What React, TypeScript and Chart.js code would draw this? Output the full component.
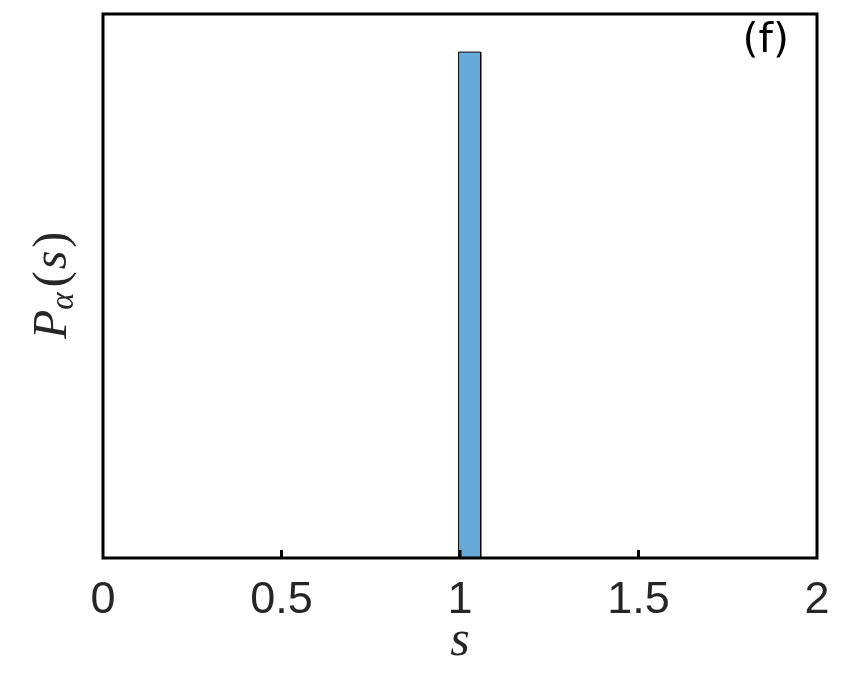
import React, { useEffect, useRef } from "react";
import { Chart, registerables } from "chart.js";

Chart.register(...registerables);

// Histogram data
const binEdges = [0.996, 1.058];
const binHeights = [0.93];
const xTicks = [0, 0.5, 1, 1.5, 2];
const xTickLabels = ["0", "0.5", "1", "1.5", "2"];
const panelLabel = "(f)";
const xTitle = "s";

const barFill = "#65aad9";

function buildOutline() {
  const pts: { x: number; y: number }[] = [];
  for (let i = 0; i < binHeights.length; i++) {
    const a = binEdges[i];
    const b = binEdges[i + 1];
    const h = binHeights[i];
    pts.push({ x: a, y: 0 }, { x: a, y: h }, { x: b, y: h }, { x: b, y: 0 });
  }
  return pts;
}

const decorPlugin = {
  id: "decor",
  afterDraw(chart: any) {
    const ctx = chart.ctx as CanvasRenderingContext2D;
    const { left, right, top, bottom } = chart.chartArea;
    const xs = chart.scales.x;
    ctx.save();
    // inward ticks
    ctx.strokeStyle = "#000";
    ctx.lineWidth = 3;
    for (const v of xTicks) {
      const px = xs.getPixelForValue(v);
      if (px <= left + 2 || px >= right - 2) continue;
      ctx.beginPath();
      ctx.moveTo(px, bottom);
      ctx.lineTo(px, bottom - 8);
      ctx.stroke();
    }
    // frame
    ctx.lineWidth = 3;
    ctx.strokeRect(left, top, right - left, bottom - top);

    // panel label
    ctx.fillStyle = "#000";
    ctx.font = "41px 'DejaVu Sans', sans-serif";
    ctx.textAlign = "right";
    ctx.textBaseline = "alphabetic";
    ctx.fillText(panelLabel, 789, 52);

    // x title
    ctx.fillStyle = "#262626";
    ctx.font = "italic 50px 'Liberation Serif', serif";
    ctx.textAlign = "center";
    ctx.fillText(xTitle, (left + right) / 2, 655);

    // y title  P_α(s)
    ctx.translate(66, 339);
    ctx.rotate(-Math.PI / 2);
    ctx.textAlign = "left";
    let x = 0;
    ctx.font = "italic 48px 'Liberation Serif', serif";
    ctx.fillText("P", x, 0);
    x += ctx.measureText("P").width;
    ctx.font = "italic 33px 'Liberation Serif', serif";
    ctx.fillText("α", x, 7);
    x += ctx.measureText("α").width + 5;
    ctx.font = "48px 'Liberation Serif', serif";
    ctx.fillText("(", x, 0);
    x += ctx.measureText("(").width + 2;
    ctx.font = "italic 48px 'Liberation Serif', serif";
    ctx.fillText("s", x, 0);
    x += ctx.measureText("s").width + 3;
    ctx.font = "48px 'Liberation Serif', serif";
    ctx.fillText(")", x, 0);
    ctx.restore();
  },
};

export default function App() {
  const ref = useRef<HTMLCanvasElement | null>(null);
  useEffect(() => {
    if (!ref.current) return;
    const chart = new Chart(ref.current, {
      type: "line",
      data: {
        datasets: [
          {
            data: buildOutline(),
            borderColor: "#000",
            borderWidth: 1,
            backgroundColor: barFill,
            fill: "origin",
            pointRadius: 0,
            tension: 0,
          },
        ],
      },
      options: {
        responsive: false,
        animation: false,
        events: [],
        layout: { padding: { left: 103, right: 33, top: 14, bottom: 0 } },
        plugins: { legend: { display: false }, tooltip: { enabled: false } },
        scales: {
          x: {
            type: "linear",
            min: 0,
            max: 2,
            grid: { display: false, drawTicks: false },
            border: { display: false },
            afterBuildTicks: (scale: any) => {
              scale.ticks = xTicks.map((v) => ({ value: v }));
            },
            afterFit: (scale: any) => {
              scale.height = 122;
            },
            ticks: {
              autoSkip: false,
              maxRotation: 0,
              minRotation: 0,
              padding: 16,
              color: "#262626",
              font: { family: "'Liberation Sans', Arial, sans-serif", size: 45 },
              callback: (_v: any, i: number) => xTickLabels[i],
            },
          },
          y: {
            type: "linear",
            min: 0,
            max: 1,
            display: false,
          },
        },
      },
      plugins: [decorPlugin],
    });
    return () => chart.destroy();
  }, []);
  return (
    <div style={{ position: "absolute", left: 0, top: 0, width: 850, height: 680, background: "#fff" }}>
      <canvas ref={ref} width={850} height={680} />
    </div>
  );
}
